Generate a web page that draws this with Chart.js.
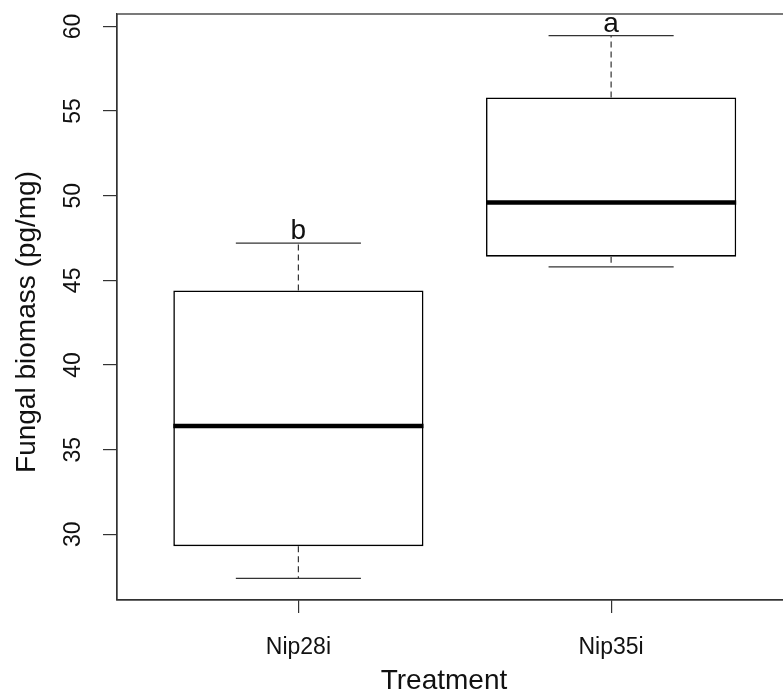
<!DOCTYPE html>
<html>
<head>
<meta charset="utf-8">
<title>Fungal biomass by treatment</title>
<script src="https://cdn.jsdelivr.net/npm/chart.js@4/dist/chart.umd.min.js"></script>
<style>
  html, body { margin: 0; padding: 0; background: #fff; overflow: hidden; width: 783px; height: 693px; }
  #wrap { position: relative; width: 800px; height: 693px; }
  canvas { display: block; }
</style>
</head>
<body>
<div id="wrap"><canvas id="chart" width="800" height="693"></canvas></div>
<script>
// Treatment groups and their five-number summaries (pg/mg)
const categories   = ['Nip28i', 'Nip35i'];
const whiskerLow   = [27.4, 45.8];
const quartile1    = [29.3, 46.4];
const medians      = [36.4, 49.6];
const quartile3    = [44.4, 55.8];
const whiskerHigh  = [47.2, 59.45];
const groupLetters = ['b', 'a'];
const yTickValues  = [30, 35, 40, 45, 50, 55, 60];

const FONT = '"Liberation Sans", Arial, sans-serif';
const INK = '#111';
const LINE = '#333';

// Axis limits padded by 4% of the data range on each side
const lo = Math.min(...whiskerLow), hi = Math.max(...whiskerHigh);
const yExt = (hi - lo) * 0.04;
const xExt = categories.length * 0.04;

// Whiskers, caps, thick medians and group letters drawn on top of the boxes
const whiskerPlugin = {
  id: 'whiskers',
  afterDatasetsDraw(chart) {
    const { ctx, scales: { x, y } } = chart;
    const meta = chart.getDatasetMeta(0);
    const seg = (x1, y1, x2, y2) => { ctx.beginPath(); ctx.moveTo(x1, y1); ctx.lineTo(x2, y2); ctx.stroke(); };
    ctx.save();
    categories.forEach((c, i) => {
      const cx = x.getPixelForValue(i + 1);
      const half = meta.data[i].width / 2;
      const capHalf = half / 2;
      const yHi = y.getPixelForValue(whiskerHigh[i]);
      const yLo = y.getPixelForValue(whiskerLow[i]);
      const yQ1 = y.getPixelForValue(quartile1[i]);
      const yQ3 = y.getPixelForValue(quartile3[i]);
      const yMed = y.getPixelForValue(medians[i]);

      ctx.strokeStyle = LINE;
      ctx.lineWidth = 1.2;
      ctx.setLineDash([6, 4]);
      seg(cx, yQ3, cx, yHi);
      seg(cx, yQ1, cx, yLo);
      ctx.setLineDash([]);
      seg(cx - capHalf, yHi, cx + capHalf, yHi);
      seg(cx - capHalf, yLo, cx + capHalf, yLo);

      ctx.strokeStyle = '#000';
      ctx.lineWidth = 4.5;
      seg(cx - half, yMed, cx + half, yMed);

      ctx.fillStyle = INK;
      ctx.font = '28px ' + FONT;
      ctx.textAlign = 'center';
      ctx.textBaseline = 'alphabetic';
      ctx.fillText(groupLetters[i], cx, yHi - 4);
    });
    ctx.restore();
  },
  afterDraw(chart) {
    const { ctx, chartArea: a } = chart;
    ctx.save();
    // plot frame
    ctx.strokeStyle = LINE;
    ctx.lineWidth = 1.3;
    ctx.strokeRect(a.left, a.top, a.right - a.left, a.bottom - a.top);
    // axis titles
    ctx.fillStyle = INK;
    ctx.font = '28px ' + FONT;
    ctx.textAlign = 'center';
    ctx.textBaseline = 'middle';
    ctx.fillText('Treatment', 444, 681);
    ctx.translate(27, 322);
    ctx.rotate(-Math.PI / 2);
    ctx.fillText('Fungal biomass (pg/mg)', 0, 0);
    ctx.restore();
  }
};

new Chart(document.getElementById('chart'), {
  type: 'bar',
  data: {
    datasets: [{
      data: categories.map((c, i) => ({ x: i + 1, y: [quartile1[i], quartile3[i]] })),
      backgroundColor: '#fff',
      borderColor: '#000',
      borderWidth: 1.6,
      borderSkipped: false,
      barPercentage: 0.8,
      categoryPercentage: 1
    }]
  },
  options: {
    responsive: false,
    devicePixelRatio: 1,
    animation: false,
    layout: { padding: { top: 14, right: 7.5, left: 0, bottom: 0 } },
    plugins: { legend: { display: false }, tooltip: { enabled: false } },
    scales: {
      x: {
        type: 'linear',
        offset: false,
        min: 0.5 - xExt,
        max: categories.length + 0.5 + xExt,
        afterBuildTicks: s => { s.ticks = categories.map((c, i) => ({ value: i + 1 })); },
        afterFit: s => { s.height = 93; s.paddingLeft = 0; s.paddingRight = 0; },
        ticks: {
          callback: v => categories[v - 1] ?? '',
          font: { family: FONT, size: 23 },
          color: INK,
          padding: 21,
          autoSkip: false,
          maxRotation: 0
        },
        grid: { offset: false, drawOnChartArea: false, drawTicks: true, tickLength: 13, color: LINE, lineWidth: 1.2 },
        border: { display: true, color: LINE, width: 1.2 }
      },
      y: {
        type: 'linear',
        min: lo - yExt,
        max: hi + yExt,
        afterBuildTicks: s => { s.ticks = yTickValues.map(v => ({ value: v })); },
        afterFit: s => { s.width = 117; s.paddingTop = 0; s.paddingBottom = 0; },
        ticks: {
          callback: v => String(v),
          font: { family: FONT, size: 23 },
          color: INK,
          padding: 17,
          minRotation: 90,
          maxRotation: 90,
          crossAlign: 'center',
          autoSkip: false
        },
        grid: { drawOnChartArea: false, drawTicks: true, tickLength: 14, color: LINE, lineWidth: 1.2 },
        border: { display: true, color: LINE, width: 1.2 }
      }
    }
  },
  plugins: [whiskerPlugin]
});
</script>
</body>
</html>
